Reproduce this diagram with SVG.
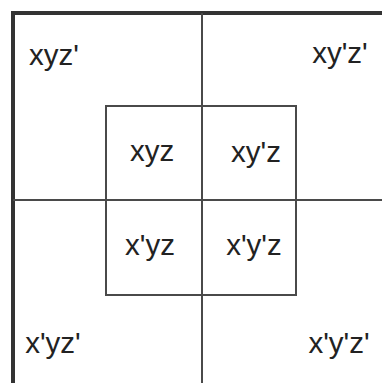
<svg xmlns="http://www.w3.org/2000/svg" width="382" height="383" viewBox="0 0 382 383">
<style>
.t{font-family:"Liberation Sans",Arial,sans-serif;font-size:29.5px;fill:#222;text-anchor:middle}
.l{stroke:#4a4a4a;stroke-width:2;fill:none}
</style>
<rect width="382" height="383" fill="#fff"/>
<g id="grid">
<path d="M13,383 V13 H382" fill="none" stroke="#333" stroke-width="4"/>
<line class="l" x1="202" y1="13" x2="202" y2="383"/>
<line class="l" x1="13" y1="200" x2="382" y2="200"/>
<rect class="l" x="106" y="106" width="190" height="189"/>
</g>
<g id="xyz_p"><text class="t" x="54" y="65">xyz'</text></g>
<g id="xy_pz_p"><text class="t" x="340" y="63">xy'z'</text></g>
<g id="xyz"><text class="t" x="152" y="161">xyz</text></g>
<g id="xy_pz"><text class="t" x="256" y="162">xy'z</text></g>
<g id="x_pyz"><text class="t" x="150" y="255">x'yz</text></g>
<g id="x_py_pz"><text class="t" x="254" y="255">x'y'z</text></g>
<g id="x_pyz_p"><text class="t" x="53" y="353">x'yz'</text></g>
<g id="x_py_pz_p"><text class="t" x="339" y="353">x'y'z'</text></g>
</svg>
